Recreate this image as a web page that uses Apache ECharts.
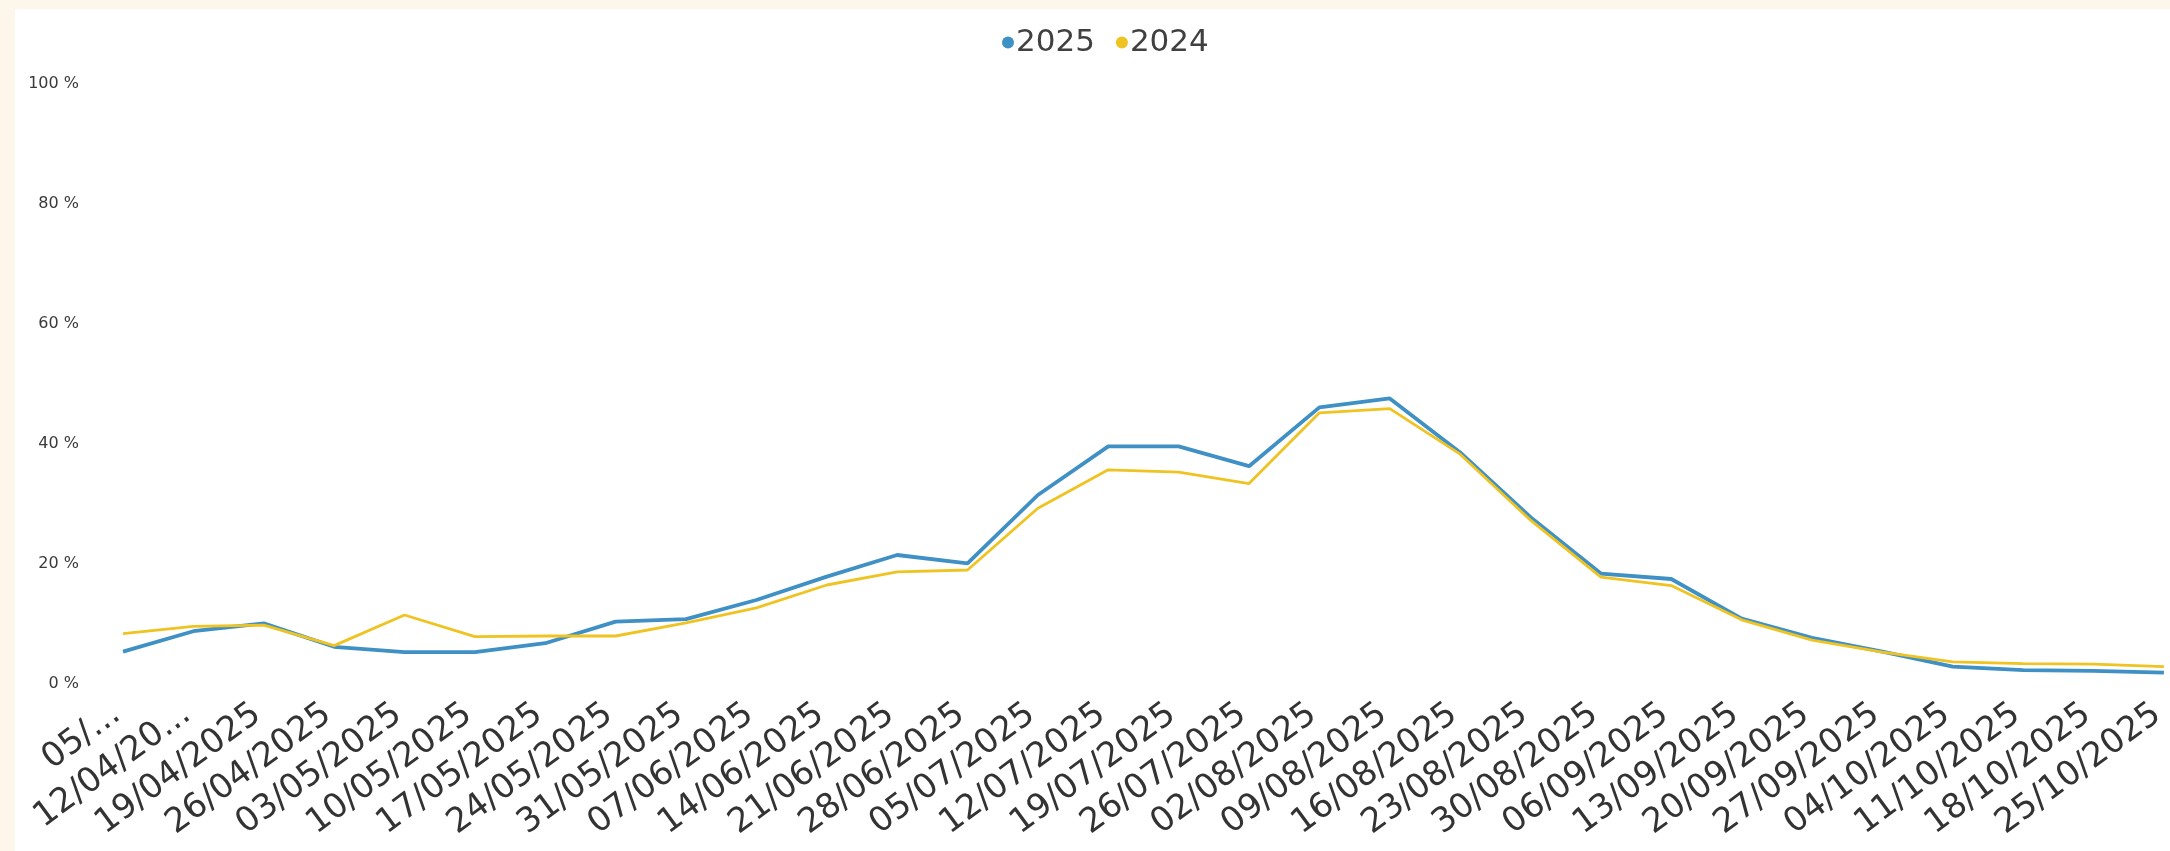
<!DOCTYPE html>
<html>
<head>
<meta charset="utf-8">
<script src="https://cdn.jsdelivr.net/npm/echarts@6/dist/echarts.min.js"></script>
<style>
  html, body { margin: 0; padding: 0; width: 2170px; height: 851px; background: #fdf6ea; overflow: hidden; }
  #chart { position: absolute; left: 15px; top: 9px; width: 2155px; height: 842px; background: #ffffff; }
</style>
</head>
<body>
<div id="chart"></div>
<script>
const categories = ['05/...', '12/04/20...', '19/04/2025', '26/04/2025', '03/05/2025', '10/05/2025',
  '17/05/2025', '24/05/2025', '31/05/2025', '07/06/2025', '14/06/2025', '21/06/2025', '28/06/2025',
  '05/07/2025', '12/07/2025', '19/07/2025', '26/07/2025', '02/08/2025', '09/08/2025', '16/08/2025',
  '23/08/2025', '30/08/2025', '06/09/2025', '13/09/2025', '20/09/2025', '27/09/2025', '04/10/2025',
  '11/10/2025', '18/10/2025', '25/10/2025'];
const seriesNames = ['2025', '2024'];
const values2025 = [5.4, 8.8, 10.1, 6.2, 5.3, 5.3, 6.8, 10.4, 10.8, 14.0, 17.9, 21.5, 20.1, 31.5, 39.6,
  39.6, 36.3, 46.1, 47.6, 38.6, 27.8, 18.4, 17.5, 10.9, 7.7, 5.4, 2.9, 2.3, 2.2, 1.9];
const values2024 = [8.4, 9.6, 9.8, 6.4, 11.5, 7.9, 8.0, 8.0, 10.2, 12.7, 16.5, 18.7, 19.0, 29.3, 35.7,
  35.3, 33.4, 45.2, 45.9, 38.3, 27.3, 17.8, 16.4, 10.7, 7.3, 5.3, 3.7, 3.4, 3.3, 2.9];
const yTicks = [0, 20, 40, 60, 80, 100];

const chart = echarts.init(document.getElementById('chart'), null, { renderer: 'canvas' });
chart.setOption({
  animation: false,
  backgroundColor: '#ffffff',
  color: ['#3f90c4', '#efc321'],
  legend: {
    left: 982,
    top: 13,
    icon: 'circle',
    itemWidth: 12,
    itemHeight: 12,
    itemGap: 21,
    data: seriesNames,
    textStyle: { fontFamily: 'DejaVu Sans', fontSize: 31, color: '#404040', padding: [0, 0, 0, -3] }
  },
  grid: { left: 108, right: 4, top: 75, bottom: 167, containLabel: false },
  xAxis: {
    type: 'category',
    data: categories,
    boundaryGap: false,
    axisLine: { show: false },
    axisTick: { show: false },
    splitLine: { show: false },
    axisLabel: {
      interval: 0,
      rotate: 36.5,
      margin: 22,
      padding: [0, 8, 0, 0],
      fontFamily: 'DejaVu Sans',
      fontSize: 34,
      color: '#333333'
    }
  },
  yAxis: {
    type: 'value',
    min: yTicks[0],
    max: yTicks[yTicks.length - 1],
    interval: 20,
    axisLine: { show: false },
    axisTick: { show: false },
    splitLine: { show: false },
    axisLabel: {
      margin: 44,
      formatter: '{value} %',
      fontFamily: 'DejaVu Sans',
      fontSize: 16,
      color: '#3a3a3a'
    }
  },
  series: [
    { name: seriesNames[0], type: 'line', data: values2025, showSymbol: false, lineStyle: { width: 3.8 } },
    { name: seriesNames[1], type: 'line', data: values2024, showSymbol: false, lineStyle: { width: 2.8 } }
  ]
});
</script>
</body>
</html>
